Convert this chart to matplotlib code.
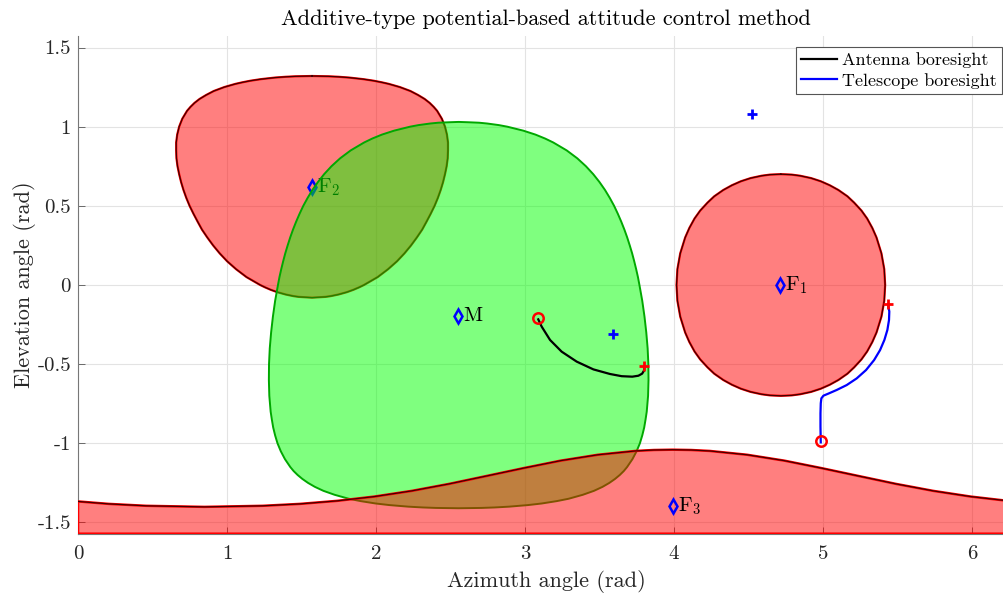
import numpy as np
import matplotlib.pyplot as plt
from matplotlib.patches import Polygon

plt.rcParams['font.family'] = 'serif'
plt.rcParams['font.serif'] = ['cmr10']
plt.rcParams['mathtext.fontset'] = 'cm'
plt.rcParams['axes.unicode_minus'] = False

# ── Region outlines: elevation rows with right / left azimuth edges (rad) ───

# forbidden zone F1
f1_el = [0.70, 0.697, 0.69, 0.675, 0.655, 0.63, 0.60, 0.56, 0.52, 0.47, 0.42,
         0.36, 0.30, 0.20, 0.10, 0.0, -0.10, -0.20, -0.30, -0.36, -0.42,
         -0.47, -0.52, -0.56, -0.60, -0.63, -0.655, -0.675, -0.69, -0.697,
         -0.70]
f1_right = [4.717, 4.790, 4.846, 4.920, 4.985, 5.045, 5.103, 5.164, 5.209,
            5.258, 5.296, 5.331, 5.359, 5.392, 5.411, 5.417, 5.411, 5.392,
            5.359, 5.331, 5.296, 5.258, 5.209, 5.164, 5.103, 5.045, 4.985,
            4.920, 4.846, 4.790, 4.717]
f1_left = [4.717, 4.644, 4.588, 4.514, 4.449, 4.389, 4.331, 4.270, 4.225,
           4.176, 4.138, 4.103, 4.075, 4.042, 4.023, 4.017, 4.023, 4.042,
           4.075, 4.103, 4.138, 4.176, 4.225, 4.270, 4.331, 4.389, 4.449,
           4.514, 4.588, 4.644, 4.717]

# forbidden zone F2
f2_el = [1.32, 1.318, 1.315, 1.31, 1.30, 1.29, 1.28, 1.27, 1.25, 1.225, 1.20,
         1.175, 1.15, 1.125, 1.10, 1.05, 1.00, 0.95, 0.90, 0.85, 0.80, 0.75,
         0.70, 0.65, 0.60, 0.55, 0.50, 0.45, 0.40, 0.35, 0.30, 0.25, 0.20,
         0.15, 0.10, 0.05, 0.0, -0.015, -0.03, -0.045, -0.06, -0.07, -0.075,
         -0.08]
f2_right = [1.571, 1.682, 1.748, 1.820, 1.915, 1.985, 2.039, 2.086, 2.160,
            2.231, 2.282, 2.326, 2.360, 2.387, 2.410, 2.442, 2.463, 2.476,
            2.483, 2.483, 2.481, 2.474, 2.463, 2.450, 2.434, 2.415, 2.393,
            2.367, 2.339, 2.310, 2.274, 2.235, 2.191, 2.141, 2.081, 2.011,
            1.919, 1.886, 1.849, 1.805, 1.748, 1.697, 1.660, 1.571]
f2_left = [1.571, 1.460, 1.394, 1.322, 1.227, 1.157, 1.103, 1.056, 0.982,
           0.911, 0.860, 0.816, 0.782, 0.755, 0.732, 0.700, 0.679, 0.666,
           0.659, 0.659, 0.661, 0.668, 0.679, 0.692, 0.708, 0.727, 0.749,
           0.775, 0.803, 0.832, 0.868, 0.907, 0.951, 1.001, 1.061, 1.131,
           1.223, 1.256, 1.293, 1.337, 1.394, 1.445, 1.482, 1.571]

# mandatory zone M
m_el = [1.03, 1.028, 1.025, 1.02, 1.01, 1.00, 0.975, 0.95, 0.925, 0.90, 0.85,
        0.80, 0.75, 0.70, 0.65, 0.60, 0.55, 0.50, 0.45, 0.40, 0.35, 0.30,
        0.25, 0.20, 0.15, 0.10, 0.05, 0.0, -0.10, -0.20, -0.30, -0.40, -0.50,
        -0.60, -0.70, -0.80, -0.85, -0.90, -0.95, -1.00, -1.05, -1.10, -1.15,
        -1.175, -1.20, -1.225, -1.25, -1.275, -1.30, -1.325, -1.35, -1.365,
        -1.38, -1.39, -1.40, -1.405, -1.408, -1.41]
m_right = [2.555, 2.617, 2.692, 2.746, 2.824, 2.881, 2.988, 3.070, 3.135,
           3.190, 3.280, 3.351, 3.409, 3.458, 3.500, 3.537, 3.569, 3.598,
           3.623, 3.646, 3.667, 3.686, 3.703, 3.719, 3.733, 3.746, 3.758,
           3.768, 3.787, 3.802, 3.814, 3.823, 3.828, 3.829, 3.826, 3.817,
           3.809, 3.800, 3.787, 3.771, 3.749, 3.721, 3.685, 3.663, 3.636,
           3.604, 3.566, 3.520, 3.463, 3.388, 3.293, 3.213, 3.112, 3.020,
           2.893, 2.797, 2.709, 2.555]
m_left = [2.555, 2.493, 2.418, 2.364, 2.286, 2.229, 2.122, 2.040, 1.975,
          1.920, 1.830, 1.759, 1.701, 1.652, 1.610, 1.573, 1.541, 1.512,
          1.487, 1.464, 1.443, 1.424, 1.407, 1.391, 1.377, 1.364, 1.352,
          1.342, 1.323, 1.308, 1.296, 1.287, 1.282, 1.281, 1.284, 1.293,
          1.301, 1.310, 1.323, 1.339, 1.361, 1.389, 1.425, 1.447, 1.474,
          1.506, 1.544, 1.590, 1.647, 1.722, 1.817, 1.897, 1.998, 2.090,
          2.217, 2.313, 2.401, 2.555]

# forbidden zone F3 (contains the south pole -> upper boundary only)
f3_az = [0.0, 0.207, 0.457, 0.848, 1.24, 1.49, 1.74, 1.99, 2.24, 2.49, 2.74,
         2.99, 3.24, 3.49, 3.74, 3.865, 3.99, 4.115, 4.24, 4.49, 4.74, 4.99,
         5.24, 5.49, 5.74, 5.99, 6.24, 6.283]
f3_el = [-1.367, -1.3825, -1.3946, -1.4014, -1.3946, -1.3825, -1.3633,
         -1.3361, -1.3003, -1.2563, -1.2066, -1.1566, -1.1093, -1.0721,
         -1.0481, -1.0422, -1.0402, -1.0422, -1.0481, -1.0721, -1.1093,
         -1.1566, -1.2066, -1.2563, -1.3003, -1.3361, -1.3633, -1.367]

# zone centres and labels
centre_names = ['F$_2$', 'M', 'F$_3$', 'F$_1$']
centre_az = [1.571, 2.553, 3.990, 4.712]
centre_el = [0.620, -0.196, -1.396, 0.000]

# boresight trajectories
ant_az = [3.089, 3.112, 3.168, 3.246, 3.347, 3.459, 3.570, 3.649, 3.720,
          3.761, 3.786, 3.799, 3.801]
ant_el = [-0.217, -0.263, -0.347, -0.421, -0.484, -0.533, -0.562, -0.576,
          -0.579, -0.573, -0.560, -0.540, -0.515]
tel_az = [4.985, 4.983, 4.983, 4.985, 4.989, 5.003, 5.036, 5.092, 5.159,
          5.226, 5.289, 5.343, 5.383, 5.412, 5.432, 5.443, 5.445, 5.438]
tel_el = [-0.994, -0.895, -0.811, -0.747, -0.716, -0.699, -0.686, -0.663,
          -0.632, -0.590, -0.537, -0.474, -0.411, -0.347, -0.284, -0.221,
          -0.168, -0.128]

# start / end / target points
start_az = [3.087, 4.984]
start_el = [-0.208, -0.988]
end_az = [3.799, 5.435]
end_el = [-0.512, -0.118]
target_az = [3.591, 4.523]
target_el = [-0.310, 1.080]

xticks = [0, 1, 2, 3, 4, 5, 6]
yticks = [-1.5, -1, -0.5, 0, 0.5, 1, 1.5]
ytick_labels = ['-1.5', '-1', '-0.5', '0', '0.5', '1', '1.5']


def outline(el, right, left):
    """Closed outline: down the right edge, back up the left edge."""
    az = list(right) + list(left[::-1])
    ee = list(el) + list(el[::-1])
    return np.column_stack([az, ee])


# ── Figure ──────────────────────────────────────────────────────────────────

fig = plt.figure(figsize=(10.04, 5.94), dpi=100)
ax = fig.add_axes([78 / 1004, 60.3 / 594, 936.2 / 1004, 497.4 / 594])
ax.set_xlim(0, 2 * np.pi)
ax.set_ylim(-np.pi / 2, np.pi / 2)
ax.set_axisbelow(True)
ax.grid(True, color='#e3e3e3', linewidth=0.8)

RED_EDGE = 'red'
GREEN_EDGE = '#00a800'


def red_zone(pts, z):
    ax.add_patch(Polygon(pts, closed=True, facecolor=(1, 0, 0, 0.5),
                         edgecolor=RED_EDGE, linewidth=1.6, zorder=z))
    ax.plot(np.append(pts[:, 0], pts[0, 0]), np.append(pts[:, 1], pts[0, 1]),
            color='black', linewidth=0.9, alpha=0.75, zorder=z + 0.05)


def centre_mark(i, z):
    ax.plot(centre_az[i], centre_el[i], 'd', color='blue', mfc='none',
            ms=7, mew=1.8, zorder=z)
    ax.text(centre_az[i] + 0.035, centre_el[i], centre_names[i], fontsize=15,
            ha='left', va='center', color='black', zorder=z)


# F2 first, so the mandatory zone lies over it
red_zone(outline(f2_el, f2_right, f2_left), 1)
centre_mark(0, 1.2)

ax.add_patch(Polygon(outline(m_el, m_right, m_left), closed=True,
                     facecolor=(0, 1, 0, 0.5), edgecolor=GREEN_EDGE,
                     linewidth=1.4, zorder=2))
centre_mark(1, 2.2)

# F3 wraps round the pole: close it along the bottom of the map
f3_poly_az = f3_az + [f3_az[-1], f3_az[0]]
f3_poly_el = f3_el + [-np.pi / 2, -np.pi / 2]
ax.add_patch(Polygon(np.column_stack([f3_poly_az, f3_poly_el]), closed=True,
                     facecolor=(1, 0, 0, 0.5), edgecolor=RED_EDGE,
                     linewidth=1.8, zorder=3))
ax.plot(f3_az, f3_el, color='black', linewidth=0.9, alpha=0.75, zorder=3.05)
centre_mark(2, 3.2)

red_zone(outline(f1_el, f1_right, f1_left), 4)
centre_mark(3, 4.2)

# trajectories
ax.plot(ant_az, ant_el, color='black', linewidth=1.6, zorder=5,
        label='Antenna boresight')
ax.plot(tel_az, tel_el, color='blue', linewidth=1.6, zorder=5,
        label='Telescope boresight')

ax.plot(start_az, start_el, 'o', color='red', mfc='none', ms=7.5, mew=1.8,
        zorder=6)
ax.plot(end_az, end_el, '+', color='red', ms=7, mew=2, zorder=6)
ax.plot(target_az, target_el, '+', color='blue', ms=7, mew=2, zorder=6)

# ── Axes styling ────────────────────────────────────────────────────────────

ax.set_xticks(xticks)
ax.set_xticklabels([str(t) for t in xticks])
ax.set_yticks(yticks)
ax.set_yticklabels(ytick_labels)
ax.tick_params(direction='in', length=5, width=0.6, color='#555555',
               labelsize=15, labelcolor='#262626')
ax.tick_params(axis='x', pad=8)
ax.tick_params(axis='y', pad=5)
for side in ('top', 'right'):
    ax.spines[side].set_visible(False)
for side in ('left', 'bottom'):
    ax.spines[side].set_color('#777777')
    ax.spines[side].set_linewidth(0.8)

ax.set_xlabel('Azimuth angle (rad)', fontsize=16, color='#262626', labelpad=5)
ax.set_ylabel('Elevation angle (rad)', fontsize=16, color='#262626', labelpad=1)
ax.set_title('Additive-type potential-based attitude control method',
             fontsize=16, pad=8)

leg = ax.legend(loc='upper right', bbox_to_anchor=(1002 / 1004, 1 - 47 / 594),
                bbox_transform=fig.transFigure, fontsize=13, frameon=True,
                fancybox=False, framealpha=1, edgecolor='#555555',
                handlelength=2.0, handletextpad=0.25, borderpad=0.3,
                labelspacing=0.25, borderaxespad=0)
leg.get_frame().set_linewidth(0.8)
leg.set_zorder(10)

fig.savefig('out.png', dpi=100)
